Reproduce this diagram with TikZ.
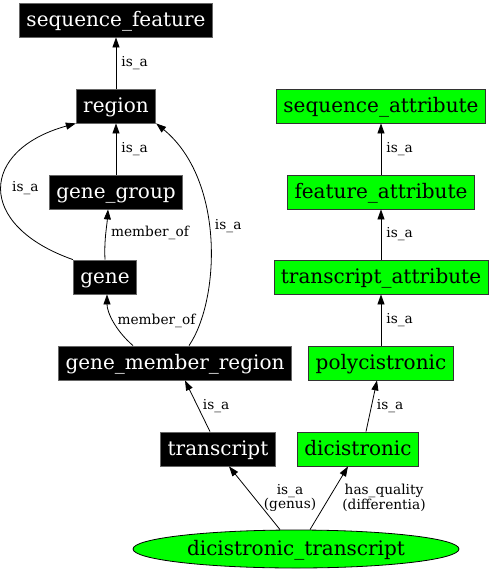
\documentclass[tikz,border=0pt]{standalone}
\usepackage{fontspec}
\setmainfont{DejaVu Serif}
\usetikzlibrary{arrows.meta,shapes.geometric}
\tikzset{
  term/.style={rectangle, fill=black, text=white, draw=black!60, line width=0.8pt,
    minimum height=34pt, inner xsep=7pt, inner ysep=0pt, text height=16pt, text depth=3pt,
    font=\fontsize{20}{22}\selectfont},
  qual/.style={term, fill=green, text=black, draw=black!80},
  lbl/.style={font=\fontsize{13.7}{13.5}\selectfont, inner sep=3pt, align=center},
  rel/.style={-{Triangle[length=10pt,width=7pt]}, line width=0.8pt}
}
\begin{document}
\begin{tikzpicture}[x=1pt,y=-1pt]
      \useasboundingbox (0,0) rectangle (492,576);
      % TERMS (left)
      \node[term] (sf)   at (116,20)  {sequence\_feature};
      \node[term] (reg)  at (116,106) {region};
      \node[term] (gg)   at (116,192) {gene\_group};
      \node[term] (gene) at (105,277) {gene};
      \node[term] (gmr)  at (175,363) {gene\_member\_region};
      \node[term] (tr)   at (218,449) {transcript};

      % QUALITIES (right)
      \node[qual] (sa)   at (381,106) {sequence\_attribute};
      \node[qual] (fa)   at (381,192) {feature\_attribute};
      \node[qual] (ta)   at (381,277) {transcript\_attribute};
      \node[qual] (poly) at (381,363) {polycistronic};
      \node[qual] (dic)  at (358,449) {dicistronic};

      % the defined class
      \node[ellipse, draw=black, fill=green, line width=0.8pt, minimum width=326pt,
        minimum height=38pt, inner sep=0pt, text height=16pt, text depth=3pt,
        font=\fontsize{20}{22}\selectfont]
        (dt) at (296,549) {dicistronic\_transcript};

      % ARROWS
      \draw[rel] (reg) -- node[lbl, right=2pt] {is\_a} (sf);
      \draw[rel] (gg) -- node[lbl, right=2pt] {is\_a} (reg);
      \draw[rel] (gene.north west) .. controls (-25,225) and (-20,150) ..
        node[lbl, right=7pt] {is\_a} (reg.south west);
      \draw[rel] (gene.north) .. controls (104,240) and (107,225) ..
        node[lbl, right=2pt] {member\_of} (gg.south -| 108,0);
      \draw[rel] (gmr.north -| 189,0) .. controls (220,300) and (225,180) ..
        node[lbl, right=3pt, pos=0.55] {is\_a} (reg.south east);
      \draw[rel] (gmr.north -| 133,0) .. controls (115,330) and (107,312) ..
        node[lbl, right=1pt, pos=0.5] {member\_of} (gene.south -| 107,0);
      \draw[rel] (tr.north -| 210,0) -- node[lbl, right=2pt] {is\_a} (gmr.south -| 185,0);

      \draw[rel] (fa) -- node[lbl, right=2pt] {is\_a} (sa);
      \draw[rel] (ta) -- node[lbl, right=2pt] {is\_a} (fa);
      \draw[rel] (poly) -- node[lbl, right=2pt] {is\_a} (ta);
      \draw[rel] (dic.north -| 366,0) -- node[lbl, right=2pt] {is\_a} (poly.south -| 377,0);

      \draw[rel] (dt.north -| 280,0) -- node[lbl, right=6pt] {is\_a\\(genus)} (tr.south -| 229,0);
      \draw[rel] (dt.north -| 310,0) -- node[lbl, right=10pt] {has\_quality\\(differentia)} (dic.south -| 348,0);
\end{tikzpicture}
\end{document}
